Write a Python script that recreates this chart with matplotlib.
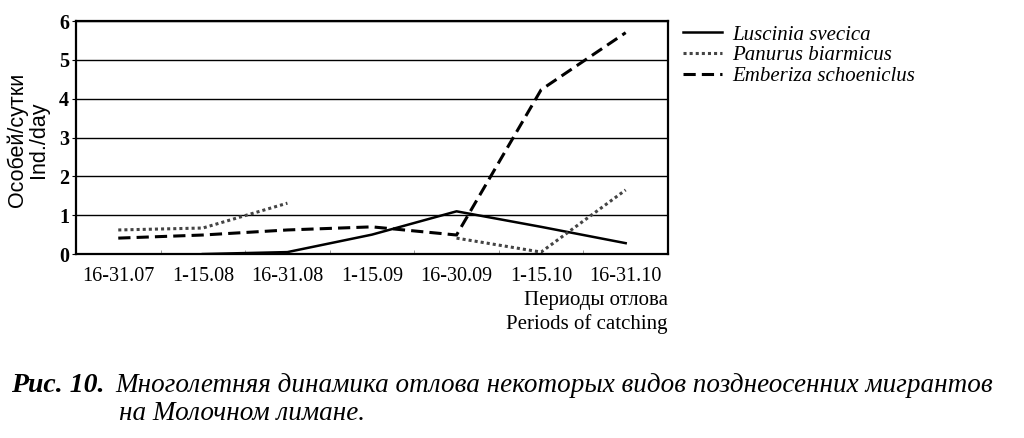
import matplotlib.pyplot as plt
import numpy as np

# periods of catching
periods = ["16-31.07", "1-15.08", "16-31.08", "1-15.09", "16-30.09", "1-15.10", "16-31.10"]

# individuals per day (nan = no data)
luscinia = [np.nan, 0.0, 0.05, 0.5, 1.1, 0.7, 0.28]
panurus = [0.62, 0.67, 1.31, np.nan, 0.41, 0.05, 1.65]
emberiza = [0.41, 0.49, 0.62, 0.70, 0.49, 4.23, 5.70]

plt.rcParams['font.family'] = ['Liberation Serif', 'DejaVu Serif']

fig = plt.figure(figsize=(10.24, 4.38), dpi=100)
ax = fig.add_axes([0.0742, 0.42, 0.5781, 0.532])

x = np.arange(len(periods))
ax.plot(x, luscinia, color='black', lw=1.8, label='Luscinia svecica')
ax.plot(x, panurus, color='#444444', lw=2.2, ls=(0, (1, 1)), label='Panurus biarmicus')
ax.plot(x, emberiza, color='black', lw=2.2, ls=(0, (4, 2)), label='Emberiza schoeniclus')

ax.set_xlim(-0.5, len(periods) - 0.5)
ax.set_ylim(0, 6)
ax.set_yticks(range(7))
ax.set_xticks(x)
ax.set_xticklabels(periods, fontsize=14.5)
ax.set_xticks(np.arange(-0.5, len(periods)), minor=True)
ax.tick_params(axis='x', which='major', length=0, pad=9)
ax.tick_params(axis='x', which='minor', length=3, direction='in', color='#888888')
ax.tick_params(axis='y', length=3, direction='out', pad=2, labelsize=14.5)
for lab in ax.get_yticklabels():
    lab.set_fontweight('bold')
ax.yaxis.grid(True, color='black', lw=1.0)
ax.set_axisbelow(True)
for sp in ax.spines.values():
    sp.set_linewidth(1.6)

ax.set_ylabel("Особей/сутки\nInd./day", fontsize=15.5, family=['Liberation Sans'],
              linespacing=1.0)
ax.yaxis.set_label_coords(-0.046, 0.49)

ax.text(1.0, -0.16, "Периоды отлова\nPeriods of catching", transform=ax.transAxes,
        ha='right', va='top', fontsize=15, linespacing=1.25)

leg = ax.legend(loc='upper left', bbox_to_anchor=(1.0, 1.045), frameon=False,
                prop={'style': 'italic', 'size': 15}, handlelength=1.9,
                handletextpad=0.5, labelspacing=0.05, borderaxespad=0.3)

fig.text(0.011, 0.104, "Рис. 10.", fontsize=20, style='italic', fontweight='bold',
         va='baseline')
fig.text(0.113, 0.104, "Многолетняя динамика отлова некоторых видов позднеосенних мигрантов",
         fontsize=19.5, style='italic', va='baseline')
fig.text(0.116, 0.040, "на Молочном лимане.", fontsize=19.5, style='italic', va='baseline')

fig.savefig("out.png", dpi=100)
